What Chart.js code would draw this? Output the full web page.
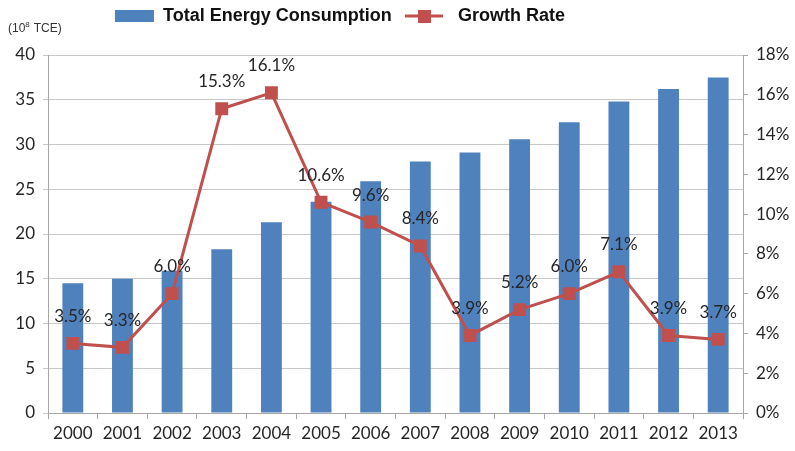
<!DOCTYPE html>
<html>
<head>
<meta charset="utf-8">
<script src="https://cdn.jsdelivr.net/npm/chart.js@4/dist/chart.umd.min.js"></script>
<style>
  html, body { margin: 0; padding: 0; background: #fff; }
  #wrap { width: 795px; height: 451px; position: relative; }
</style>
</head>
<body>
<div id="wrap"><canvas id="chart" width="795" height="451"></canvas></div>
<script>
const years = ["2000", "2001", "2002", "2003", "2004", "2005", "2006",
  "2007", "2008", "2009", "2010", "2011", "2012", "2013"];
const consumption = [14.5, 15.0, 15.9, 18.3, 21.3, 23.6, 25.9, 28.1, 29.1, 30.6, 32.5, 34.8, 36.2, 37.5];
const growthRate = [3.5, 3.3, 6.0, 15.3, 16.1, 10.6, 9.6, 8.4, 3.9, 5.2, 6.0, 7.1, 3.9, 3.7];

const BLUE = "#4f81bd";
const RED = "#c0504d";
const TICK_FONT = { family: "Lato, 'Open Sans', sans-serif", size: 17 };

// percent labels above each growth point
const pointLabels = {
  id: "pointLabels",
  afterDatasetsDraw(chart) {
    const { ctx } = chart;
    const meta = chart.getDatasetMeta(1);
    ctx.save();
    ctx.font = "17px Lato, 'Open Sans', sans-serif";
    ctx.fillStyle = "#262626";
    ctx.textAlign = "center";
    ctx.textBaseline = "middle";
    meta.data.forEach((pt, i) => {
      ctx.fillText(growthRate[i].toFixed(1) + "%", pt.x, pt.y - 27);
    });
    ctx.restore();
  }
};

// legend and unit caption
const header = {
  id: "header",
  afterDraw(chart) {
    const { ctx } = chart;
    ctx.save();
    ctx.textBaseline = "middle";
    ctx.fillStyle = BLUE;
    ctx.fillRect(115, 10, 39, 12);
    ctx.font = "bold 18px 'Liberation Sans', Arial, sans-serif";
    ctx.fillStyle = "#111";
    ctx.fillText("Total Energy Consumption", 163, 16);

    ctx.strokeStyle = RED;
    ctx.lineWidth = 3;
    ctx.beginPath();
    ctx.moveTo(405, 16);
    ctx.lineTo(443, 16);
    ctx.stroke();
    ctx.fillStyle = RED;
    ctx.fillRect(418, 10, 13, 13);
    ctx.fillStyle = "#111";
    ctx.fillText("Growth Rate", 458, 16);

    ctx.font = "12px 'Liberation Sans', Arial, sans-serif";
    ctx.fillStyle = "#333";
    ctx.fillText("(10", 8, 29);
    const w = ctx.measureText("(10").width;
    ctx.font = "8px 'Liberation Sans', Arial, sans-serif";
    ctx.fillText("8", 8 + w, 25);
    ctx.font = "12px 'Liberation Sans', Arial, sans-serif";
    ctx.fillText(" TCE)", 8 + w + 5, 29);
    ctx.restore();
  }
};

new Chart(document.getElementById("chart"), {
  data: {
    labels: years,
    datasets: [
      {
        type: "bar",
        label: "Total Energy Consumption",
        data: consumption,
        backgroundColor: BLUE,
        barPercentage: 0.42,
        categoryPercentage: 1,
        yAxisID: "y",
        order: 2
      },
      {
        type: "line",
        label: "Growth Rate",
        data: growthRate,
        borderColor: RED,
        backgroundColor: RED,
        borderWidth: 3,
        pointStyle: "rect",
        pointRadius: 7,
        pointHoverRadius: 7,
        tension: 0,
        yAxisID: "y1",
        order: 1
      }
    ]
  },
  options: {
    responsive: false,
    animation: false,
    layout: { padding: { top: 55, right: 0, left: 0, bottom: 0 } },
    plugins: {
      legend: { display: false },
      tooltip: { enabled: false }
    },
    scales: {
      x: {
        offset: true,
        grid: {
          offset: true,
          drawOnChartArea: false,
          color: "#a6a6a6",
          tickLength: 6
        },
        border: { color: "#a6a6a6" },
        ticks: { color: "#262626", font: TICK_FONT, padding: 4, maxRotation: 0 },
        afterFit(scale) { scale.height = 38; }
      },
      y: {
        position: "left",
        min: 0,
        max: 40,
        ticks: { stepSize: 5, color: "#262626", font: TICK_FONT, padding: 8 },
        grid: { color: "#c8c8c8", tickLength: 5 },
        border: { color: "#a6a6a6" },
        afterFit(scale) { scale.width = 48; }
      },
      y1: {
        position: "right",
        min: 0,
        max: 18,
        ticks: {
          stepSize: 2,
          color: "#262626",
          font: TICK_FONT,
          padding: 8,
          callback: (v) => v + "%"
        },
        grid: { drawOnChartArea: false, color: "#a6a6a6", tickLength: 5 },
        border: { color: "#a6a6a6" },
        afterFit(scale) { scale.width = 52; }
      }
    }
  },
  plugins: [pointLabels, header]
});
</script>
</body>
</html>
